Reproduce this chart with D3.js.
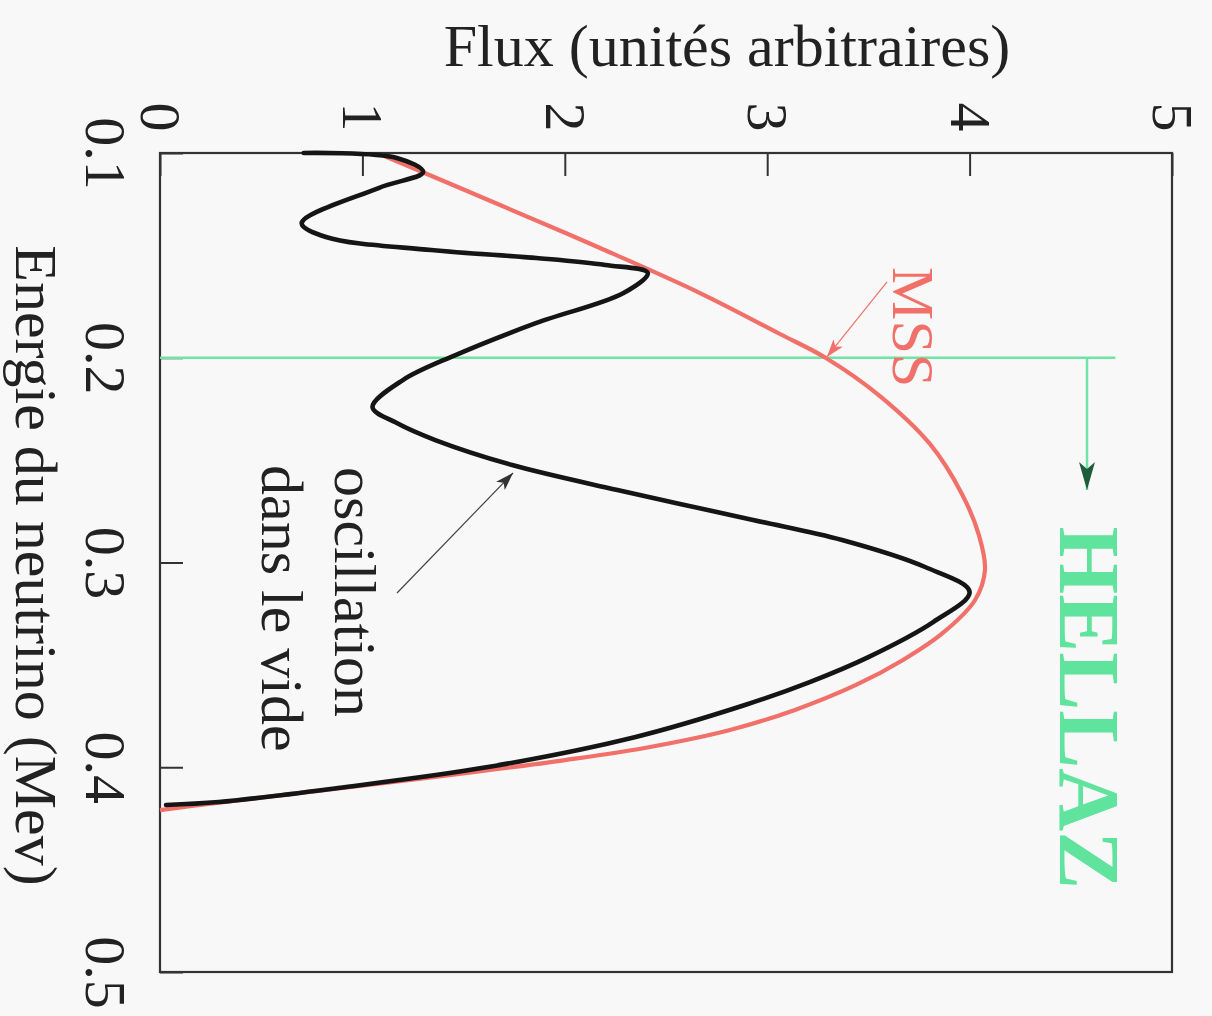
<!DOCTYPE html>
<html>
<head>
<meta charset="utf-8">
<script src="https://cdn.jsdelivr.net/npm/d3@7"></script>
<style>
  html, body { margin: 0; padding: 0; background: #f8f8f8; }
  svg { display: block; }
  text { font-family: "Liberation Serif", "Times New Roman", serif; }
</style>
</head>
<body>
<script>
// Flux axis (drawn horizontally, along the top) and energy axis (drawn vertically, on the left)
const fluxTicks = [0, 1, 2, 3, 4, 5];
const energyTicks = [0.1, 0.2, 0.3, 0.4, 0.5];

// Standard solar model (MSS) spectrum
const mssEnergy = [0.1010, 0.1254, 0.1464, 0.1684, 0.1884, 0.2001, 0.2187, 0.2421, 0.2665, 0.2866,
                   0.3036, 0.3183, 0.3344, 0.3476, 0.3598, 0.3720, 0.3818, 0.3901, 0.3965, 0.4023,
                   0.4077, 0.4131, 0.4175, 0.4209];
const mssFlux   = [1.097, 1.680, 2.174, 2.668, 3.063, 3.290, 3.557, 3.804, 3.962, 4.046,
                   4.076, 4.027, 3.868, 3.671, 3.439, 3.137, 2.816, 2.421, 2.001, 1.556,
                   1.112, 0.642, 0.272, 0.000];

// Spectrum with vacuum oscillation
const oscEnergy = [0.1000, 0.1024, 0.1093, 0.1171, 0.1342, 0.1410, 0.1474, 0.1513, 0.1547, 0.1586,
                   0.1684, 0.1830, 0.1987, 0.2109, 0.2241, 0.2319, 0.2402, 0.2524, 0.2646, 0.2792,
                   0.2890, 0.3022, 0.3144, 0.3291, 0.3462, 0.3584, 0.3696, 0.3852, 0.3999, 0.4101,
                   0.4170, 0.4184];
const oscFlux   = [0.71, 1.17, 1.30, 1.08, 0.70, 0.82, 1.34, 1.86, 2.20, 2.41,
                   2.29, 1.86, 1.46, 1.20, 1.05, 1.17, 1.36, 1.74, 2.26, 2.93,
                   3.37, 3.78, 4.00, 3.82, 3.50, 3.21, 2.89, 2.35, 1.62, 0.88,
                   0.29, 0.03];

// HELLAZ detection threshold (MeV)
const hellazThreshold = 0.2;

const W = 1212, H = 1016;
const RED = "#f2706a", GREEN = "#72e3a6", DARKGREEN = "#1f5c3c", INK = "#222";

const svg = d3.select("body").append("svg").attr("width", W).attr("height", H);
svg.append("rect").attr("width", W).attr("height", H).attr("fill", "#f8f8f8");

const x = d3.scaleLinear().domain([0, 5]).range([160, 1172]);
const y = d3.scaleLinear().domain([0.1, 0.5]).range([153, 972]);

const defs = svg.append("defs");
function marker(id, color, len, wid) {
  defs.append("marker").attr("id", id)
    .attr("markerUnits", "userSpaceOnUse")
    .attr("viewBox", `0 0 ${len} ${wid}`)
    .attr("refX", len).attr("refY", wid / 2)
    .attr("markerWidth", len).attr("markerHeight", wid)
    .attr("orient", "auto")
    .append("path").attr("d", `M0,0L${len},${wid / 2}L0,${wid}L${len * 0.25},${wid / 2}Z`)
    .attr("fill", color);
}
marker("arrDark", "#333", 18, 12);
marker("arrRed", RED, 18, 12);
marker("arrGreen", DARKGREEN, 28, 16);

// Axes with inward ticks
const fluxAxis = d3.axisTop(x).tickValues(fluxTicks).tickSize(-23).tickPadding(0)
  .tickFormat(d3.format("d"));
const gF = svg.append("g").attr("transform", `translate(0,${y(0.1)})`).call(fluxAxis);
gF.select(".domain").remove();
gF.selectAll(".tick line").attr("stroke", "#333").attr("stroke-width", 2);
gF.selectAll(".tick text")
  .attr("y", null).attr("dy", null)
  .attr("transform", "translate(0,-36) rotate(90)")
  .attr("text-anchor", "middle").attr("dominant-baseline", "central")
  .attr("font-size", 58).attr("fill", INK)
  .style("font-family", "'Liberation Serif', 'Times New Roman', serif");

const energyAxis = d3.axisLeft(y).tickValues(energyTicks).tickSize(-23).tickPadding(0)
  .tickFormat(d3.format(".1f"));
const gE = svg.append("g").attr("transform", `translate(${x(0)},0)`).call(energyAxis);
gE.select(".domain").remove();
gE.selectAll(".tick line").attr("stroke", "#333").attr("stroke-width", 2);
gE.selectAll(".tick text")
  .attr("x", null).attr("dy", null)
  .attr("transform", "translate(-55,0) rotate(90)")
  .attr("text-anchor", "middle").attr("dominant-baseline", "central")
  .attr("font-size", 58).attr("fill", INK)
  .style("font-family", "'Liberation Serif', 'Times New Roman', serif");

// Plot frame
svg.append("rect")
  .attr("x", x(0)).attr("y", y(0.1))
  .attr("width", x(5) - x(0)).attr("height", y(0.5) - y(0.1))
  .attr("fill", "none").attr("stroke", "#333").attr("stroke-width", 2.2);

// Axis titles
svg.append("text").attr("x", 727).attr("y", 66)
  .attr("text-anchor", "middle").attr("font-size", 60).attr("fill", INK)
  .text("Flux (unités arbitraires)");
svg.append("text").attr("transform", `translate(16,${(y(0.1) + y(0.5)) / 2 + 3}) rotate(90)`)
  .attr("text-anchor", "middle").attr("font-size", 60).attr("fill", INK)
  .text("Energie du neutrino (Mev)");

// HELLAZ threshold line and arrow
svg.append("line")
  .attr("x1", x(0)).attr("x2", x(4.72))
  .attr("y1", y(hellazThreshold)).attr("y2", y(hellazThreshold))
  .attr("stroke", GREEN).attr("stroke-width", 2.5);
svg.append("line")
  .attr("x1", x(4.58)).attr("x2", x(4.58))
  .attr("y1", y(hellazThreshold)).attr("y2", y(0.2646))
  .attr("stroke", GREEN).attr("stroke-width", 2.5)
  .attr("marker-end", "url(#arrGreen)");

// Spectra
const line = d3.line()
  .x(d => x(d[1])).y(d => y(d[0]))
  .curve(d3.curveCatmullRom.alpha(0.5));

svg.append("path")
  .datum(d3.zip(mssEnergy, mssFlux))
  .attr("d", line).attr("fill", "none")
  .attr("stroke", RED).attr("stroke-width", 4.2).attr("stroke-linejoin", "round");

svg.append("path")
  .datum(d3.zip(oscEnergy, oscFlux))
  .attr("d", line).attr("fill", "none")
  .attr("stroke", "#151515").attr("stroke-width", 4.6)
  .attr("stroke-linejoin", "round").attr("stroke-linecap", "round");

// Annotations
svg.append("line")
  .attr("x1", x(3.592)).attr("y1", y(0.1630))
  .attr("x2", x(3.295)).attr("y2", y(0.1996))
  .attr("stroke", RED).attr("stroke-width", 1.2)
  .attr("marker-end", "url(#arrRed)");
svg.append("text")
  .attr("transform", `translate(${x(3.62)},${y(0.1557)}) rotate(90)`)
  .attr("font-size", 60).attr("fill", RED)
  .text("MSS");

svg.append("line")
  .attr("x1", x(1.171)).attr("y1", y(0.3149))
  .attr("x2", x(1.744)).attr("y2", y(0.2563))
  .attr("stroke", "#444").attr("stroke-width", 1.2)
  .attr("marker-end", "url(#arrDark)");
svg.append("text")
  .attr("transform", `translate(${x(0.865)},${y(0.2534)}) rotate(90)`)
  .attr("font-size", 60).attr("fill", INK)
  .text("oscillation");
svg.append("text")
  .attr("transform", `translate(${x(0.504)},${y(0.2524)}) rotate(90)`)
  .attr("font-size", 60).attr("fill", INK)
  .text("dans le vide");

svg.append("text")
  .attr("transform", `translate(${x(4.447)},${y(0.371)}) rotate(90)`)
  .attr("text-anchor", "middle")
  .attr("font-size", 87).attr("font-weight", "bold").attr("fill", "#5fe39d")
  .text("HELLAZ");
</script>
</body>
</html>
